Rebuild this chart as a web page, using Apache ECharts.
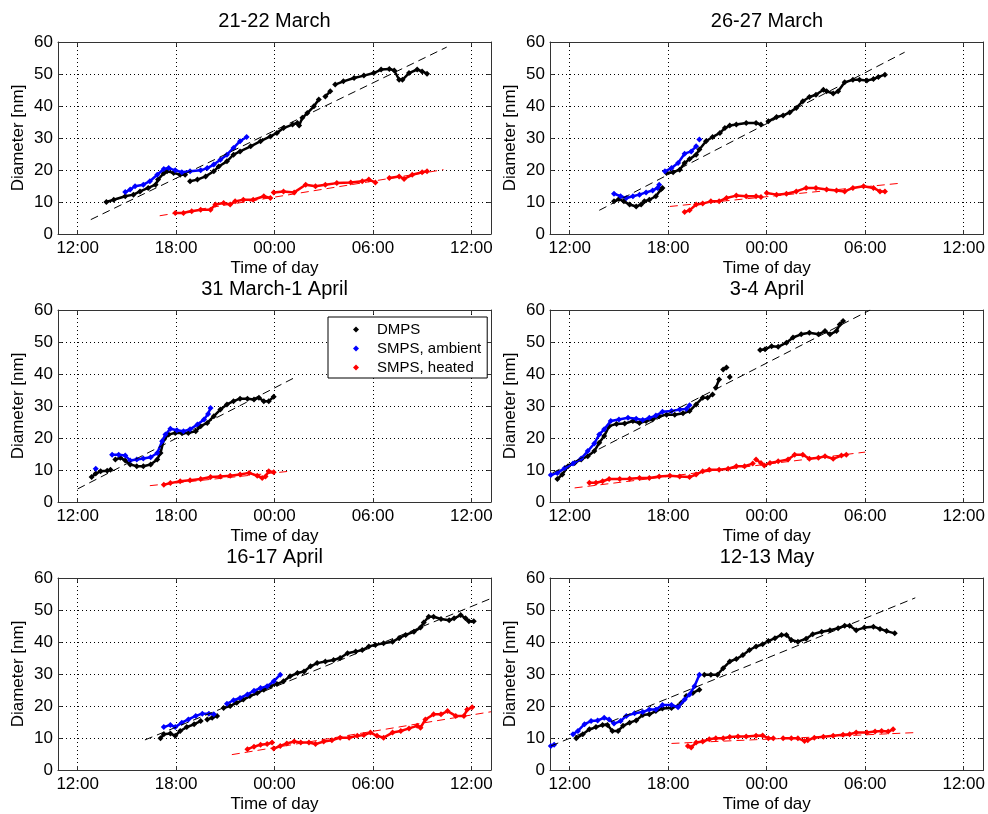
<!DOCTYPE html>
<html><head><meta charset="utf-8">
<script src="https://cdn.jsdelivr.net/npm/echarts@6/dist/echarts.min.js"></script>
<style>html,body{margin:0;padding:0;background:#fff}#c{width:988px;height:814px}</style>
</head><body><div id="c"></div>
<script>
// ---------- data (x = hours since midnight of first day, y = diameter nm) ----------
const panelTitles = ['21-22 March','26-27 March','31 March-1 April','3-4 April','16-17 April','12-13 May'];
const seriesNames = ['DMPS','SMPS, ambient','SMPS, heated'];
const xTickValues = [12,18,24,30,36];
const xTickLabels = ['12:00','18:00','00:00','06:00','12:00'];
const xMin = 10.8, xMax = 37.2;
const yMin = 0, yMax = 60, yStep = 10;

const p1_dmps = [[13.75,10.0],[14.2,10.7],[14.9,11.8],[15.4,12.3],[15.8,13.3],[16.3,14.4],[16.75,15.4],[16.9,17],[17.25,19],[17.45,19.6],[17.85,19.1],[18.25,18.5],[18.55,18.5],null,[18.85,16.5],[19.3,17],[19.8,18],[20.3,19.6],[20.6,21.1],[21.1,22.7],[21.5,24.8],[21.9,25.8],[22.55,27.4],[23.15,29],[23.75,30.5],[24.15,31.6],[24.55,33.1],[25.1,34.2],[25.4,34.7],[25.5,33.9],[25.7,36.3],[26.0,37.8],[26.4,39.9],[26.7,42.0],null,[27.1,43.0],[27.4,44.6],null,[27.7,46.7],[28.2,47.7],[28.85,48.75],[29.45,49.5],[30.05,50.3],[30.5,51.4],[31.0,51.6],[31.3,51.1],[31.6,48.2],[31.8,48.2],[32.2,50.3],[32.7,51.4],[33.0,50.8],[33.3,50.1]];
const p1_amb = [[14.9,13.1],[15.2,13.9],[15.5,14.9],[16.0,15.4],[16.4,16.5],[16.85,18.5],[17.25,20.3],[17.55,20.6],[17.95,19.9],[18.35,19.3],[18.85,19.6],[19.5,19.9],[19.9,20.6],[20.3,21.7],[20.7,23.2],[21.1,24.8],[21.5,26.9],[21.9,29.0],[22.3,30.3]];
const p1_heat = [[17.95,6.6],[18.45,6.6],[18.95,7.1],[19.5,7.6],[20.1,7.6],[20.4,9.2],[20.9,9.7],[21.3,9.2],[21.6,10.2],[22.1,10.7],[22.7,10.7],[23.35,11.8],[23.75,11.25],null,[23.95,13.0],[24.55,13.3],[25.2,13.0],[25.9,15.4],[26.5,14.9],[27.1,15.4],[27.8,15.9],[28.65,16.1],[29.35,16.5],[29.75,17.0],[30.15,16.1],null,[31.0,17.5],[31.6,18.0],[31.9,17.2],[32.4,18.5],[33.0,19.3],[33.3,19.6]];
const p1_fitD = [[12.8,4.5],[34.5,58.4]];
const p1_fitH = [[17.0,5.7],[34.3,20.1]];

const p2_dmps = [[14.7,10.2],[15.0,10.9],[15.3,10.2],[15.65,9.2],[16.05,8.6],[16.35,9.2],[16.55,10.2],[16.85,10.7],[17.25,11.8],[17.55,13.9],[17.65,14.4],null,[17.9,19.1],[18.3,19.3],[18.7,20.1],[19.0,22.2],[19.3,23.4],[19.7,24.8],[19.9,26.4],[20.3,29.0],[20.7,30.3],[21.15,31.6],[21.45,33.1],[21.75,33.9],[22.15,34.2],[22.75,34.7],[23.35,34.7],[23.65,34.2],null,[24.1,35.2],[24.6,36.6],[25.0,37.0],[25.4,38.0],[25.8,39.4],[26.2,41.5],[26.6,42.8],[27.0,43.5],[27.45,45.1],null,[27.65,44.6],[28.05,43.9],[28.35,44.6],[28.75,47.4],[29.25,48.2],[29.65,48.2],[30.1,48.0],[30.5,48.4],[30.8,49.1],[31.2,49.8]];
const p2_amb = [[14.7,12.6],[15.1,11.8],[15.45,11.25],[15.85,11.8],[16.25,12.3],[16.65,13.0],[17.05,13.6],[17.35,14.4],[17.45,15.4],null,[17.8,19.6],[18.2,20.6],[18.6,22.2],[19.0,25.1],[19.4,25.8],[19.7,27.4],null,[19.9,29.5]];
const p2_heat = [[19.0,6.9],[19.3,7.4],[19.7,9.2],[20.1,9.5],[20.6,10.2],[21.1,10.2],[21.55,11.25],[22.15,12.0],[22.75,11.8],[23.35,11.8],[23.65,11.6],null,[24.0,12.8],[24.6,12.3],[25.2,12.6],[25.8,13.3],[26.4,14.4],[27.0,14.4],[27.65,13.9],[28.25,13.6],[28.75,13.3],[29.25,14.4],[29.9,14.9],[30.5,14.4],[30.9,13.3],[31.2,13.3]];
const p2_fitD = [[13.8,7.4],[32.4,56.8]];
const p2_fitH = [[18.1,8.6],[32.2,15.9]];

const p3_dmps = [[12.85,7.8],[13.1,8.9],[13.4,9.6],[13.8,9.8],[14.0,10.1],null,[14.3,13.3],[14.6,13.8],[14.9,13.0],[15.2,11.7],[15.6,11.2],[16.0,11.2],[16.45,11.7],[16.85,13.3],[17.05,15.3],[17.25,19.5],[17.55,21.1],[17.95,21.6],[18.35,21.6],[18.75,21.6],[19.2,22.1],[19.5,23.7],[19.9,24.7],[20.3,26.8],[20.7,28.9],[21.1,30.5],[21.5,31.5],[21.9,32.3],[22.35,32.3],[22.75,32.0],[23.05,32.6],[23.35,31.5],[23.65,31.5],[23.95,32.9]];
const p3_amb = [[13.1,10.4],null,[14.1,14.8],[14.5,14.8],[14.9,14.5],[15.2,13.0],[15.6,13.3],[16.0,13.6],[16.45,14.0],[16.85,15.3],[17.15,19.0],[17.35,21.1],[17.65,22.9],[18.05,22.4],[18.45,22.1],[18.85,22.7],[19.3,24.2],[19.7,25.8],[19.95,27.5],[20.1,29.4]];
const p3_heat = [[17.25,5.4],[17.65,5.9],[18.25,6.5],[18.85,6.8],[19.5,7.2],[20.1,7.8],[20.7,8.0],[21.3,8.2],[21.9,8.6],[22.45,9.1],[22.95,8.2],[23.25,7.5],[23.45,8.0],[23.65,9.6],[23.95,9.3]];
const p3_fitD = [[12.0,4.1],[25.2,38.8]];
const p3_fitH = [[16.4,5.1],[24.9,9.6]];

const p4_dmps = [[11.25,7.2],[11.55,8.6],[11.9,11.2],[12.3,12.2],[12.7,13.3],[13.1,14.3],[13.5,15.9],[13.8,18.5],[14.1,20.6],[14.4,23.7],[14.85,24.4],[15.35,24.5],[15.85,25.3],[16.25,24.7],[16.65,25.3],[17.05,25.8],[17.45,26.8],[17.9,27.3],[18.4,27.3],[18.9,27.7],[19.3,28.4],[19.7,30.5],[20.1,32.6],[20.4,32.6],[20.7,33.6],null,[20.9,35.7],[21.1,38.3],null,[21.35,41.4],[21.55,42.0],null,[21.75,39.1],null,[23.6,47.5],[23.9,47.7],[24.3,48.7],[24.7,48.5],[25.2,49.8],[25.6,51.4],[26.1,52.4],[26.6,52.9],[27.15,52.4],[27.55,53.4],[27.85,52.4],[28.25,53.4],[28.45,55.5],[28.65,56.6]];
const p4_amb = [[10.85,8.4],[11.25,9.1],[11.7,10.6],[12.2,12.0],[12.7,13.6],[13.1,15.9],[13.5,18.3],[13.8,21.1],[14.1,22.7],[14.5,25.3],[15.0,25.8],[15.55,26.3],[16.05,26.0],[16.45,25.6],[16.85,26.3],[17.25,27.0],[17.65,28.2],[18.2,28.4],[18.7,28.9],[19.1,29.1],[19.3,30.2]];
const p4_heat = [[13.2,6.0],[13.6,6.0],[14.0,6.5],[14.4,7.2],[15.05,7.2],[15.65,7.3],[16.25,7.5],[16.85,7.5],[17.45,8.0],[18.1,8.2],[18.7,8.0],[19.3,7.8],[19.7,8.6],[20.1,9.6],[20.5,10.1],[21.1,10.1],[21.65,10.4],[22.15,11.2],[22.65,11.2],[23.15,12.0],null,[23.35,13.3],[23.65,12.2],[23.85,11.4],[24.2,12.2],[24.7,12.7],[25.3,13.3],[25.7,14.8],[26.2,14.8],[26.6,13.5],[27.15,13.8],[27.55,14.3],[28.05,13.5],[28.55,14.5],[28.85,14.8]];
const p4_fitD = [[10.95,9.1],[30.3,60]];
const p4_fitH = [[12.3,4.4],[30.0,15.6]];

const p5_dmps = [[17.05,9.9],[17.25,11.2],[17.65,11.4],[17.95,10.7],[18.25,12.2],[18.65,13.4],[19.1,14.3],[19.5,15.3],null,[19.9,15.8],[20.2,16.3],[20.5,16.9],null,[20.9,19.4],[21.3,20.0],[21.7,21.0],[22.1,22.0],[22.5,23.1],[22.95,24.1],[23.35,25.1],[23.75,26.2],[24.15,26.9],[24.55,27.7],[24.95,29.3],[25.4,30.3],[25.8,30.8],[26.2,32.4],[26.6,33.4],[27.1,33.9],[27.6,34.4],[28.0,35.0],[28.45,36.5],[28.95,37.0],[29.35,37.5],[29.75,38.6],[30.15,39.1],[30.65,39.6],[31.2,40.1],[31.6,41.2],[32.0,42.2],[32.5,43.2],[32.9,44.5],[33.1,46.1],[33.4,47.9],[33.7,47.9],[34.15,47.2],[34.65,46.8],[34.95,47.4],[35.35,48.4],[35.65,47.4],[35.85,46.5],[36.15,46.5]];
const p5_amb = [[17.25,13.4],[17.65,14.1],[17.95,13.4],[18.35,14.8],[18.75,15.8],[19.2,16.9],[19.6,17.6],[20.0,17.6],[20.3,17.4],null,[21.1,20.7],[21.5,21.8],[21.9,22.5],[22.35,23.6],[22.75,24.8],[23.15,25.6],[23.55,26.2],[23.95,27.7],[24.35,29.8]];
const p5_heat = [[22.35,6.5],[22.75,7.3],[23.15,7.9],[23.55,8.1],[23.85,8.6],null,[23.95,6.7],[24.35,7.5],[24.75,8.3],[25.2,8.9],[25.6,8.6],[26.1,8.6],[26.5,8.1],[27.0,8.9],[27.5,9.3],[28.0,10.1],[28.55,10.1],[29.05,10.7],[29.45,10.9],[29.85,11.7],[30.25,10.7],[30.65,10.1],[31.2,11.7],[31.7,12.2],[32.2,13.0],[32.7,13.8],[32.9,13.2],[33.2,15.8],[33.7,17.4],[34.15,17.4],[34.55,18.4],[35.05,16.9],[35.55,16.9],[35.75,18.9],[36.05,19.6]];
const p5_fitD = [[16.1,9.4],[37.2,53.6]];
const p5_fitH = [[21.4,4.8],[37.2,18.2]];

const p6_dmps = [[12.4,9.9],[12.8,11.2],[13.2,12.7],[13.6,13.4],[14.0,14.1],[14.3,14.1],[14.6,12.2],[14.95,12.2],[15.25,13.8],[15.65,14.8],[16.05,15.5],[16.45,17.2],[16.85,17.4],[17.25,18.4],[17.65,19.2],[18.2,19.4],[18.6,20.0],[18.8,21.0],null,[19.1,23.1],[19.5,24.1],[19.9,25.1],null,[20.2,29.8],[20.6,29.8],[21.0,29.8],[21.35,31.8],[21.75,33.9],[22.15,34.7],[22.55,35.9],[22.95,37.5],[23.35,38.6],[23.75,39.3],[24.1,40.3],[24.5,41.2],[24.9,42.2],[25.2,42.2],[25.5,40.6],[25.9,40.1],[26.4,41.0],[26.8,42.4],[27.35,43.2],[27.85,43.7],[28.35,44.3],[28.75,45.1],[29.05,45.1],[29.45,43.7],[29.95,44.5],[30.5,44.8],[30.9,44.1],[31.3,43.4],[31.8,42.7]];
const p6_amb = [[10.85,7.5],[11.05,7.9],null,[12.2,11.2],[12.5,12.2],[12.9,14.3],[13.3,15.3],[13.7,15.5],[14.1,16.3],[14.4,15.8],[14.7,14.5],[15.1,15.3],[15.45,16.9],[15.95,17.7],[16.45,18.1],[16.85,18.9],[17.25,18.9],[17.65,20.3],[18.2,20.3],[18.6,19.6],[19.0,22.0],[19.3,23.6],[19.6,26.2],[19.9,29.8]];
const p6_heat = [[19.2,7.5],[19.4,7.0],[19.7,8.6],[20.1,8.9],[20.5,9.6],[20.9,9.9],[21.35,9.9],[21.75,10.3],[22.25,10.5],[22.75,10.5],[23.35,10.7],[23.75,10.8],[24.1,9.9],[24.4,9.9],null,[25.0,9.9],[25.5,9.9],[25.9,9.9],[26.3,9.1],[26.5,9.3],[26.9,10.1],[27.45,10.4],[28.05,10.7],[28.65,11.0],[29.05,11.2],[29.45,11.7],[30.1,11.7],[30.6,12.0],[31.0,12.2],[31.4,12.0],[31.7,12.7]];
const p6_fitD = [[10.85,7.5],[33.05,53.8]];
const p6_fitH = [[18.2,8.3],[33.1,11.7]];

// ---------- layout & styles ----------
const panels = [
  [p1_dmps,p1_amb,p1_heat,p1_fitD,p1_fitH],
  [p2_dmps,p2_amb,p2_heat,p2_fitD,p2_fitH],
  [p3_dmps,p3_amb,p3_heat,p3_fitD,p3_fitH],
  [p4_dmps,p4_amb,p4_heat,p4_fitD,p4_fitH],
  [p5_dmps,p5_amb,p5_heat,p5_fitD,p5_fitH],
  [p6_dmps,p6_amb,p6_heat,p6_fitD,p6_fitH]
];
const colLeft = [58, 550], colWidth = [433, 434];
const rowTop = [42, 310, 578], plotH = 192;
const colors = ['#000000','#0000ff','#ff0000'];
const FONT = 'Liberation Sans, Arial, Helvetica, sans-serif';
const axisCol = '#333333';

function fmtHour(v){ const h = ((Math.round(v)%24)+24)%24; return (h<10?'0':'')+h+':00'; }

const grid=[], xAxis=[], yAxis=[], series=[], graphic=[];
panels.forEach((p,i)=>{
  const c=i%2, r=Math.floor(i/2);
  const left=colLeft[c], top=rowTop[r], w=colWidth[c];
  grid.push({left:left, top:top, width:w, height:plotH, show:false});
  graphic.push({type:'text', x:left+w/2, y:top-21, style:{text:panelTitles[i], textAlign:'center', textVerticalAlign:'middle', verticalAlign:'middle', font:'20px '+FONT, fill:'#000'}});
  xAxis.push({type:'value', gridIndex:i, min:xMin, max:xMax, position:'bottom',
    axisLine:{onZero:false, lineStyle:{color:axisCol, width:1}},
    name:'Time of day', nameLocation:'middle', nameGap:26,
    nameTextStyle:{fontSize:17, fontFamily:FONT, color:'#000'},
    axisTick:{show:true, inside:true, length:4, customValues:xTickValues, lineStyle:{color:axisCol}},
    axisLabel:{show:true, customValues:xTickValues, margin:6, fontSize:17, fontFamily:FONT, color:'#000',
      formatter:(v)=>{const k=xTickValues.indexOf(Math.round(v)); return k>=0?xTickLabels[k]:fmtHour(v);}},
    splitLine:{show:true, lineStyle:{color:'#000', type:[1,3], width:1}}
  });
  yAxis.push({type:'value', gridIndex:i, min:yMin, max:yMax, interval:yStep, position:'left',
    name:'Diameter [nm]', nameLocation:'middle', nameGap:31,
    nameTextStyle:{fontSize:17, fontFamily:FONT, color:'#000'},
    axisLine:{show:true, onZero:false, lineStyle:{color:axisCol}},
    axisTick:{show:true, inside:true, length:4, lineStyle:{color:axisCol}},
    axisLabel:{margin:5, fontSize:17, fontFamily:FONT, color:'#000'},
    splitLine:{show:true, lineStyle:{color:'#000', type:[1,3], width:1}}
  });
});
panels.forEach((p,i)=>{
  xAxis.push({type:'value', gridIndex:i, min:xMin, max:xMax, position:'top',
    axisLine:{show:true, onZero:false, lineStyle:{color:axisCol}},
    axisTick:{show:true, inside:true, length:4, customValues:xTickValues, lineStyle:{color:axisCol}},
    axisLabel:{show:false}, splitLine:{show:false}});
  yAxis.push({type:'value', gridIndex:i, min:yMin, max:yMax, interval:yStep, position:'right',
    axisLine:{show:true, onZero:false, lineStyle:{color:axisCol}},
    axisTick:{show:true, inside:true, length:4, lineStyle:{color:axisCol}},
    axisLabel:{show:false}, splitLine:{show:false}});
});
panels.forEach((p,i)=>{
  for(let s=0;s<3;s++){
    series.push({name:seriesNames[s], type:'line', xAxisIndex:i, yAxisIndex:i, data:p[s],
      symbol:'diamond', symbolSize:6, showSymbol:true, connectNulls:false,
      lineStyle:{color:colors[s], width:2.5}, itemStyle:{color:colors[s]},
      animation:false, silent:true, z:2+s});
  }
  series.push({name:'fitD', type:'line', xAxisIndex:i, yAxisIndex:i, data:p[3], symbol:'none',
    lineStyle:{color:'#000', width:1, type:[8,5]}, animation:false, silent:true, z:6});
  series.push({name:'fitH', type:'line', xAxisIndex:i, yAxisIndex:i, data:p[4], symbol:'none',
    lineStyle:{color:'#ff0000', width:1, type:[8,5]}, animation:false, silent:true, z:6});
});

const chart = echarts.init(document.getElementById('c'), null, {renderer:'canvas'});
chart.setOption({
  backgroundColor:'#fff',
  animation:false,
  grid, xAxis, yAxis, series, graphic,
  legend:{data:seriesNames.map(n=>({name:n, icon:'diamond'})), orient:'vertical', left:328, top:317,
    itemWidth:6, itemHeight:6, itemGap:4, padding:[5,6,3,25],
    lineStyle:{width:0, opacity:0},
    backgroundColor:'#fff', borderColor:'#000', borderWidth:1,
    textStyle:{fontSize:15, fontFamily:FONT, color:'#000', lineHeight:15, padding:[0,0,0,13]}, selectedMode:false}
});
</script></body></html>
